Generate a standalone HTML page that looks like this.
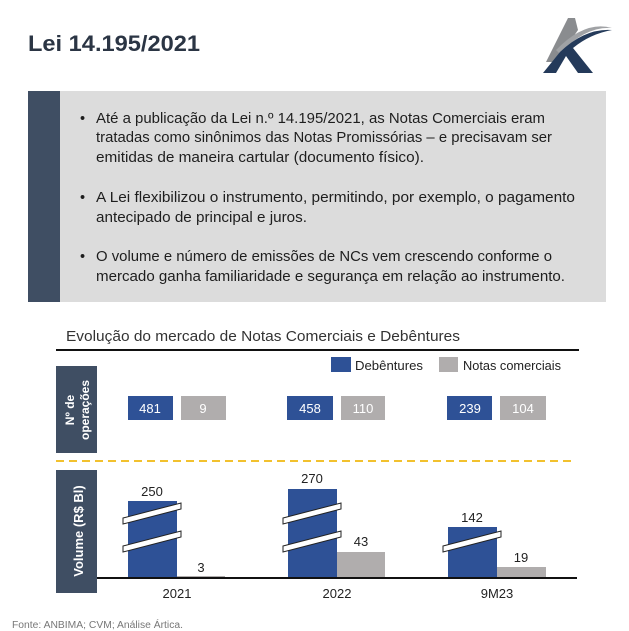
<!DOCTYPE html>
<html><head><meta charset="utf-8"><style>
html,body{margin:0;padding:0;background:#fff;width:629px;height:631px;overflow:hidden}
svg{display:block}
text{font-family:"Liberation Sans",sans-serif}
</style></head><body>
<svg width="629" height="631" viewBox="0 0 629 631" xmlns="http://www.w3.org/2000/svg">
<rect width="629" height="631" fill="#fff"/>
<text x="28" y="51" font-size="22" font-weight="bold" fill="#2b3544" textLength="172" lengthAdjust="spacingAndGlyphs">Lei 14.195/2021</text>
<!-- logo -->
<polygon points="546,62 568,18 575,18 578,30 556,62" fill="#8a8c8f"/>
<path d="M556,50 Q585,20 612,28 Q585,26 560,54 Z" fill="#a0a2a5"/>
<path d="M543,73 L560,52 Q585,28 612,30 Q590,34 573,48 L593,73 L578,73 L566,56 L556,73 Z" fill="#243a5a"/>
<!-- info box -->
<rect x="28" y="91" width="578" height="211" fill="#dcdcdc"/>
<rect x="28" y="91" width="32" height="211" fill="#3f4e63"/>
<g font-size="14.5" fill="#1e1e1e">
<text x="80" y="123">•</text>
<text x="96" y="123" textLength="449" lengthAdjust="spacingAndGlyphs">Até a publicação da Lei n.º 14.195/2021, as Notas Comerciais eram</text>
<text x="96" y="142" textLength="456" lengthAdjust="spacingAndGlyphs">tratadas como sinônimos das Notas Promissórias – e precisavam ser</text>
<text x="96" y="162" textLength="328" lengthAdjust="spacingAndGlyphs">emitidas de maneira cartular (documento físico).</text>
<text x="80" y="202">•</text>
<text x="96" y="202" textLength="479" lengthAdjust="spacingAndGlyphs">A Lei flexibilizou o instrumento, permitindo, por exemplo, o pagamento</text>
<text x="96" y="222" textLength="211" lengthAdjust="spacingAndGlyphs">antecipado de principal e juros.</text>
<text x="80" y="261">•</text>
<text x="96" y="261" textLength="456" lengthAdjust="spacingAndGlyphs">O volume e número de emissões de NCs vem crescendo conforme o</text>
<text x="96" y="281" textLength="469" lengthAdjust="spacingAndGlyphs">mercado ganha familiaridade e segurança em relação ao instrumento.</text>
</g>
<!-- chart -->
<text x="66" y="341" font-size="15" fill="#333" textLength="394" lengthAdjust="spacingAndGlyphs">Evolução do mercado de Notas Comerciais e Debêntures</text>
<rect x="56" y="349" width="523" height="2" fill="#111"/>
<rect x="331" y="357" width="20" height="15" fill="#2e5196"/>
<text x="355" y="370" font-size="13" fill="#222" textLength="68" lengthAdjust="spacingAndGlyphs">Debêntures</text>
<rect x="439" y="357" width="19" height="15" fill="#b0adad"/>
<text x="463" y="370" font-size="13" fill="#222" textLength="98" lengthAdjust="spacingAndGlyphs">Notas comerciais</text>
<rect x="56" y="366" width="41" height="87" fill="#3f4e63"/>
<text transform="translate(74,410) rotate(-90)" font-size="12" font-weight="bold" fill="#fff" text-anchor="middle">Nº de</text>
<text transform="translate(89,410) rotate(-90)" font-size="12" font-weight="bold" fill="#fff" text-anchor="middle">operações</text>
<g font-size="13" fill="#fff" text-anchor="middle">
<rect x="128" y="396" width="45" height="24" fill="#2e5196"/><text x="150" y="413">481</text>
<rect x="181" y="396" width="45" height="24" fill="#b0adad"/><text x="203" y="413">9</text>
<rect x="287" y="396" width="46" height="24" fill="#2e5196"/><text x="310" y="413">458</text>
<rect x="341" y="396" width="44" height="24" fill="#b0adad"/><text x="363" y="413">110</text>
<rect x="447" y="396" width="45" height="24" fill="#2e5196"/><text x="470" y="413">239</text>
<rect x="500" y="396" width="46" height="24" fill="#b0adad"/><text x="523" y="413">104</text>
</g>
<line x1="56" y1="461" x2="575" y2="461" stroke="#f2c12e" stroke-width="2" stroke-dasharray="8,5"/>
<rect x="56" y="470" width="41" height="123" fill="#3f4e63"/>
<text transform="translate(83,531) rotate(-90)" font-size="13" font-weight="bold" fill="#fff" text-anchor="middle">Volume (R$ Bl)</text>
<!-- bars -->
<rect x="128" y="501" width="49" height="77" fill="#2e5196"/>
<rect x="177" y="576" width="48" height="2" fill="#b0adad"/>
<rect x="288" y="489" width="49" height="89" fill="#2e5196"/>
<rect x="337" y="552" width="48" height="26" fill="#b0adad"/>
<rect x="448" y="527" width="49" height="51" fill="#2e5196"/>
<rect x="497" y="567" width="49" height="11" fill="#b0adad"/>
<g fill="#fff" stroke="#222" stroke-width="1">
<polygon points="123,518 181,503 181,509 123,524"/>
<polygon points="123,546 181,531 181,537 123,552"/>
<polygon points="283,518 341,503 341,509 283,524"/>
<polygon points="283,546 341,531 341,537 283,552"/>
<polygon points="443,546 501,531 501,537 443,552"/>
</g>
<rect x="97" y="577" width="480" height="2" fill="#111"/>
<g font-size="13" fill="#222" text-anchor="middle">
<text x="152" y="496">250</text><text x="201" y="572">3</text>
<text x="312" y="483">270</text><text x="361" y="546">43</text>
<text x="472" y="522">142</text><text x="521" y="562">19</text>
<text x="177" y="598">2021</text><text x="337" y="598">2022</text><text x="497" y="598">9M23</text>
</g>
<text x="12" y="628" font-size="10" fill="#777" textLength="171" lengthAdjust="spacingAndGlyphs">Fonte: ANBIMA; CVM; Análise Ártica.</text>
</svg>
</body></html>
